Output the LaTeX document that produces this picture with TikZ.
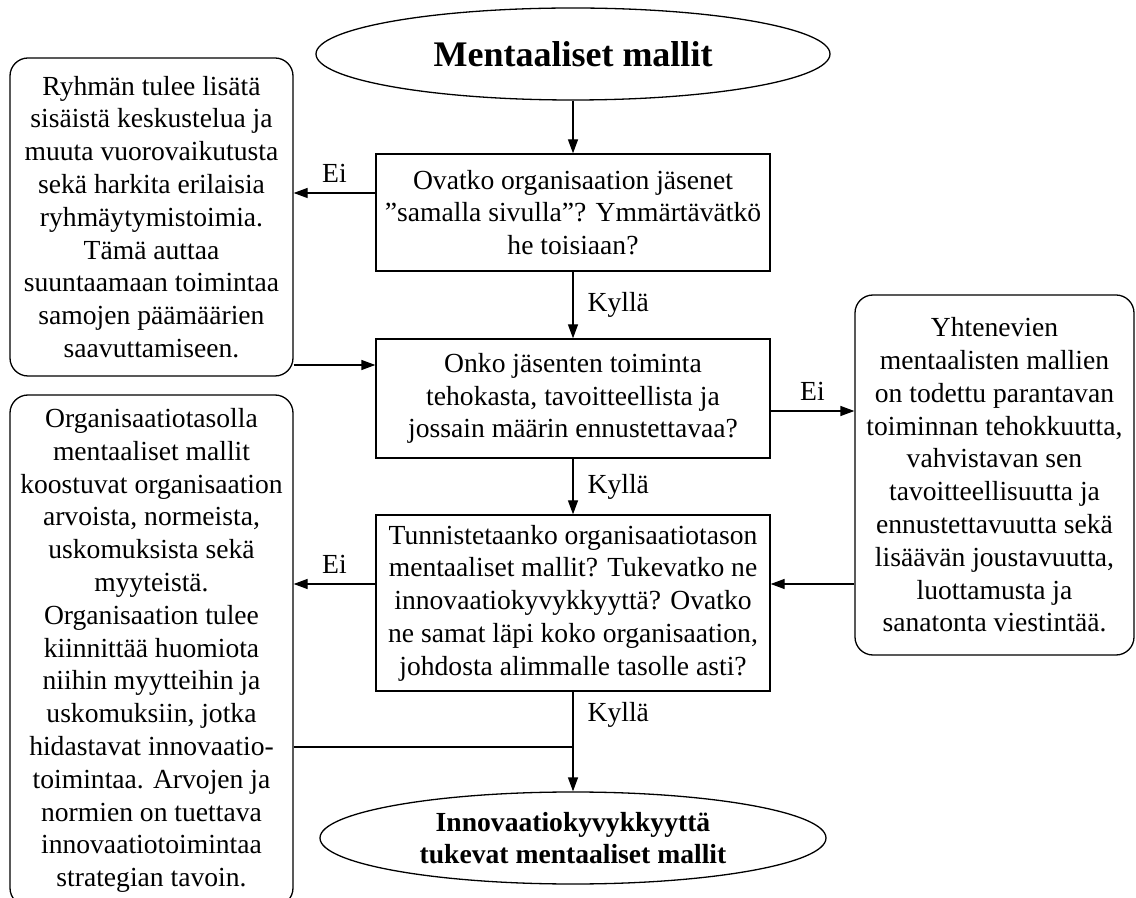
\documentclass[tikz,border=0pt]{standalone}
\usepackage{fontspec}
\setmainfont{Liberation Serif}
\usetikzlibrary{shapes.geometric,arrows.meta}
\tikzset{
  txt/.style={font=\fontsize{13.8}{16.4}\selectfont},
  base/.style={txt, align=center, inner sep=0pt},
  qbox/.style={base, draw, rectangle, minimum width=197pt},
  note/.style={base, draw, rectangle, rounded corners=9pt, minimum width=141.5pt},
  term/.style={draw, ellipse, inner sep=0pt, align=center},
  arr/.style={-{Triangle[length=7pt,width=5pt]}},
  lbl/.style={txt, inner sep=0pt},
}
\begin{document}
\begin{tikzpicture}[x=0.5pt, y=-0.5pt, line width=0.65pt]
\useasboundingbox (0,0) rectangle (1136,898);
\clip (0,0) rectangle (1136,898);

% terminals
\node[term, minimum width=257pt, minimum height=46pt,
      font=\fontsize{18}{21}\selectfont\bfseries] (start) at (573,54) {Mentaaliset mallit};
\node[term, minimum width=253pt, minimum height=46pt,
      font=\fontsize{13.8}{16.4}\selectfont\bfseries] (end) at (573,838)
  {Innovaatiokyvykkyyttä\\tukevat mentaaliset mallit};

% questions
\node[qbox, minimum height=58.5pt] (q1) at (573,212.5)
  {Ovatko organisaation jäsenet\\”samalla sivulla”? Ymmärtävätkö\\he toisiaan?};
\node[qbox, minimum height=59.5pt] (q2) at (573,398.5)
  {Onko jäsenten toiminta\\tehokasta, tavoitteellista ja\\jossain määrin ennustettavaa?};
\node[qbox, minimum height=88pt] (q3) at (573,603)
  {Tunnistetaanko organisaatiotason\\mentaaliset mallit? Tukevatko ne\\innovaatiokyvykkyyttä? Ovatko\\ne samat läpi koko organisaation,\\johdosta alimmalle tasolle asti?};

% side notes
\node[note, minimum height=159pt] (n1) at (151.5,217)
  {Ryhmän tulee lisätä\\sisäistä keskustelua ja\\muuta vuorovaikutusta\\sekä harkita erilaisia\\ryhmäytymistoimia.\\Tämä auttaa\\suuntaamaan toimintaa\\samojen päämäärien\\saavuttamiseen.};
\node[note, minimum height=255.5pt] (n2) at (151.5,650.5)
  {Organisaatiotasolla\\mentaaliset mallit\\koostuvat organisaation\\arvoista, normeista,\\uskomuksista sekä\\myyteistä.\\Organisaation tulee\\kiinnittää huomiota\\niihin myytteihin ja\\uskomuksiin, jotka\\hidastavat innovaatio-\\toimintaa. Arvojen ja\\normien on tuettava\\innovaatiotoimintaa\\strategian tavoin.};
\node[note, minimum width=139.5pt, minimum height=180pt] (n3) at (994.5,475)
  {Yhtenevien\\mentaalisten mallien\\on todettu parantavan\\toiminnan tehokkuutta,\\vahvistavan sen\\tavoitteellisuutta ja\\ennustettavuutta sekä\\lisäävän joustavuutta,\\luottamusta ja\\sanatonta viestintää.};

% anchor points of the side connectors
\coordinate (e1) at ([yshift=9.75pt]q1.west);
\coordinate (r1) at ([yshift=16.75pt]q2.west);
\coordinate (e2) at ([yshift=-6.25pt]q2.east);
\coordinate (r3) at ([yshift=9.5pt]q3.east);
\coordinate (e3) at ([yshift=9.5pt]q3.west);
\coordinate (j)  at ([yshift=-48.25pt]n2.east);

% main flow
\draw[arr] (start) -- (q1);
\draw[arr] (q1) -- (q2) node[lbl, midway, right=7pt] {Kyllä};
\draw[arr] (q2) -- (q3) node[lbl, midway, right=7pt] {Kyllä};
\draw[arr] (q3) -- (end) node[lbl, pos=0.23, right=7pt] {Kyllä};

% branches
\draw[arr] (e1) -- (e1 -| n1.east) node[lbl, midway, above=5pt] {Ei};
\draw[arr] (r1 -| n1.east) -- (r1);
\draw[arr] (e2) -- (e2 -| n3.west) node[lbl, midway, above=5pt] {Ei};
\draw[arr] (r3 -| n3.west) -- (r3);
\draw[arr] (e3) -- (e3 -| n2.east) node[lbl, midway, above=5pt] {Ei};
\draw (j) -- (j -| q3.south);
\end{tikzpicture}
\end{document}
